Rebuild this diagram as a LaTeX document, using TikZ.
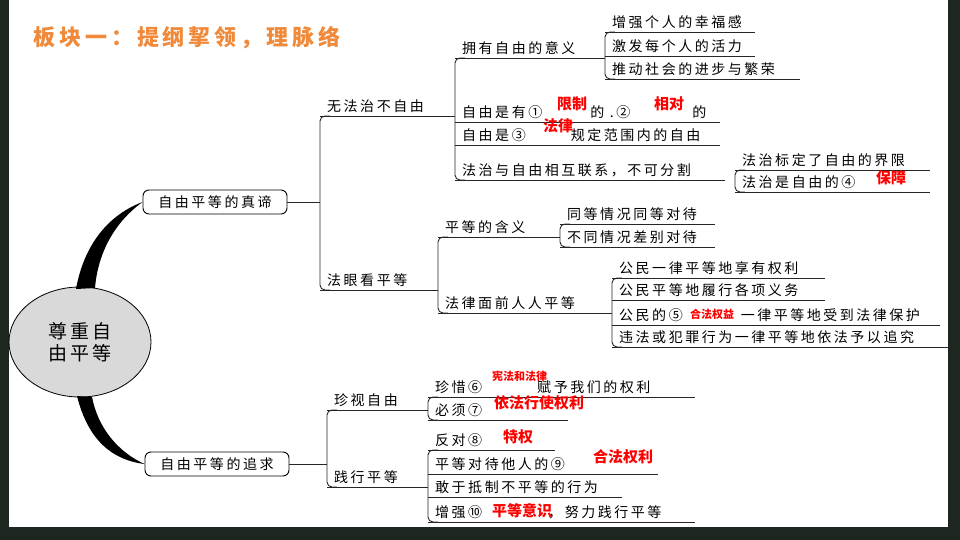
\documentclass[tikz,border=0pt]{standalone}
\usepackage{fontspec}
\usetikzlibrary{shapes.geometric}
\newfontfamily\cjk{Noto Sans CJK SC}[LetterSpace=18]
\newfontfamily\cjkred{Noto Sans CJK SC}[LetterSpace=0]
\definecolor{frame}{HTML}{1E2620}
\definecolor{titleorange}{HTML}{F08A3A}
\tikzset{
  uline/.style={draw=black!85,line width=0.9pt},
  txt/.style={anchor=west,inner sep=0pt,font=\cjk\fontsize{14}{16}\selectfont},
  ans/.style={anchor=west,inner sep=0pt,text=red,font=\cjkred\bfseries\fontsize{15}{16}\selectfont},
  smallans/.style={ans,font=\cjkred\bfseries\fontsize{11}{12}\selectfont},
  mainbox/.style={draw,line width=0.9pt,rounded corners=6pt,minimum width=144pt,minimum height=24pt,inner sep=0pt,font=\cjk\fontsize{14}{16}\selectfont}
}
\newcommand\leaf[5]{% name, x start, y of line, x end, text
  \draw[uline] (#2,#3) -- (#4,#3);
  \node[txt] (#1) at (#2+7,#3-10) {#5};}
\newcommand\fork[3]{% x, y top, y bottom
  \draw[uline,rounded corners=5pt] (#1+10,#2) -- (#1,#2) -- (#1,#3) -- (#1+10,#3);}
\begin{document}
\begin{tikzpicture}[x=1pt,y=-1pt]
  \fill[frame] (0,0) rectangle (960,540);
  \fill[white] (9,0) rectangle (948,527);
  \useasboundingbox (0,0) rectangle (960,540);

  % title
  \node[inner sep=0pt,anchor=west,text=titleorange,font=\cjk\bfseries\fontsize{22}{24}\selectfont] (title) at (33,38) {板块一：提纲挈领，理脉络};

  % root
  \node[draw,line width=0.8pt,ellipse,fill=black!15,minimum width=142pt,minimum height=110pt,align=center,
        font=\cjk\fontsize{19}{22}\selectfont] (root) at (80,342) {尊重自\\由平等};
  \node[mainbox] (truth) at (215,202) {自由平等的真谛};
  \node[mainbox] (pursuit) at (217,464) {自由平等的追求};
  \fill (76,289) .. controls (84,245) and (108,215) .. (truth.west)
        .. controls (115,222) and (98,252) .. (95,288) -- cycle;
  \fill (77,396) .. controls (88,440) and (112,460) .. (pursuit.west)
        .. controls (118,452) and (98,428) .. (92,397) -- cycle;

  % truth branch
  \draw[uline] (truth.east) -- (320,202);
  \fork{320}{116}{290}
  \leaf{nolaw}{320}{116}{455}{无法治不自由}
  \leaf{lawview}{320}{290}{438}{法眼看平等}

  \fork{455}{58}{180}
  \leaf{meaning}{455}{58}{605}{拥有自由的意义}
  \leaf{limit}{455}{122}{720}{自由是有①\hspace{48pt}的 .②\hspace{62pt}的}
  \leaf{scope}{455}{145}{720}{自由是③\hspace{45pt}规定范围内的自由}
  \leaf{link}{455}{180}{725}{法治与自由相互联系，不可分割}

  \fork{605}{32}{79}
  \leaf{happy}{605}{32}{755}{增强个人的幸福感}
  \leaf{vital}{605}{56}{755}{激发每个人的活力}
  \leaf{progress}{605}{79}{800}{推动社会的进步与繁荣}

  \fork{735}{170}{192}
  \leaf{bound}{735}{170}{930}{法治标定了自由的界限}
  \leaf{guard}{735}{192}{930}{法治是自由的④}

  \fork{438}{237}{313}
  \leaf{eqmean}{438}{237}{560}{平等的含义}
  \leaf{eqlaw}{438}{313}{612}{法律面前人人平等}

  \fork{560}{224}{247}
  \leaf{same}{560}{224}{715}{同等情况同等对待}
  \leaf{diff}{560}{247}{715}{不同情况差别对待}

  \fork{612}{278}{347}
  \leaf{right}{612}{278}{825}{公民一律平等地享有权利}
  \leaf{duty}{612}{300}{825}{公民平等地履行各项义务}
  \leaf{protect}{612}{325}{940}{公民的⑤\hspace{58pt}一律平等地受到法律保护}
  \leaf{punish}{612}{347}{950}{违法或犯罪行为一律平等地依法予以追究}

  % pursuit branch
  \draw[uline] (pursuit.east) -- (327,464);
  \fork{327}{410}{487}
  \leaf{cherish}{327}{410}{428}{珍视自由}
  \leaf{practice}{327}{487}{428}{践行平等}

  \fork{428}{397}{420}
  \leaf{value}{428}{397}{695}{珍惜⑥\hspace{55pt}赋予我们的权利}
  \leaf{must}{428}{420}{568}{必须⑦}

  \fork{428}{450}{522}
  \leaf{oppose}{428}{450}{555}{反对⑧}
  \leaf{treat}{428}{474}{658}{平等对待他人的⑨}
  \leaf{resist}{428}{497}{622}{敢于抵制不平等的行为}
  \leaf{raise}{428}{522}{695}{增强⑩\hspace{66pt}，努力践行平等}

  % answers
  \node[ans] (a1) at (557,104) {限制};
  \node[ans] (a2) at (654,104) {相对};
  \node[ans] (a3) at (543,126) {法律};
  \node[ans] (a4) at (876,178) {保障};
  \node[smallans] (a5) at (690,314) {合法权益};
  \node[smallans] (a6) at (492,376) {宪法和法律};
  \node[ans] (a7) at (494,403) {依法行使权利};
  \node[ans] (a8) at (503,437) {特权};
  \node[ans] (a9) at (593,457) {合法权利};
  \node[ans] (a10) at (492,511) {平等意识};
\end{tikzpicture}
\end{document}
